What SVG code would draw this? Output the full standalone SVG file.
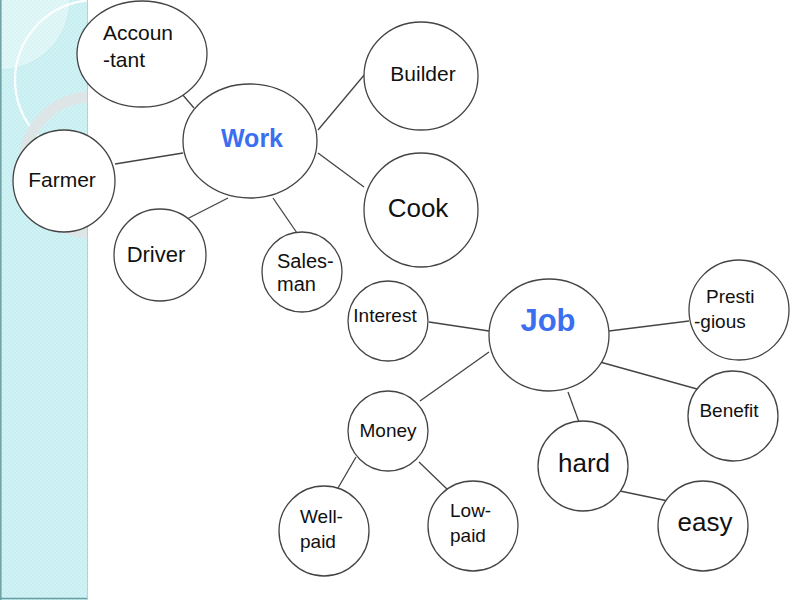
<svg xmlns="http://www.w3.org/2000/svg" width="800" height="600" viewBox="0 0 800 600">
<defs>
<pattern id="chk" width="4" height="4" patternUnits="userSpaceOnUse">
<rect width="4" height="4" fill="#c6eef1"/>
<rect width="2" height="2" fill="#d2f3f5"/>
<rect x="2" y="2" width="2" height="2" fill="#d2f3f5"/>
</pattern>
<clipPath id="panel"><rect x="0" y="0" width="88" height="600"/></clipPath>
</defs>
<style>
.n{fill:#fff;stroke:#444;stroke-width:1.3}
.c line{stroke:#444;stroke-width:1.3}
text{font-family:"Liberation Sans",Arial,sans-serif;fill:#111}
.h{fill:#3b6ff0;font-weight:bold}
</style>
<rect width="800" height="600" fill="#fff"/>
<g id="panel-bg" clip-path="url(#panel)">
<rect x="0" y="0" width="88" height="600" fill="url(#chk)"/>
<circle cx="0" cy="0" r="70" fill="#ffffff" opacity="0.35" stroke="#b9e0e3" stroke-width="1"/>
<circle cx="95" cy="80" r="80" fill="none" stroke="#ffffff" stroke-width="2.2" opacity="0.9"/>
<circle cx="92" cy="165" r="68" fill="none" stroke="#dde5e7" stroke-width="11"/>
<line x1="0.8" y1="0" x2="0.8" y2="600" stroke="#6a9fa2" stroke-width="1.5"/>
<line x1="0" y1="598.5" x2="88" y2="598.5" stroke="#6a9fa2" stroke-width="1.5"/>
<line x1="87.5" y1="0" x2="87.5" y2="600" stroke="#a9d6d9" stroke-width="1"/>
</g>
<g id="connectors" class="c">
<line x1="182" y1="94" x2="194" y2="108"/>
<line x1="115" y1="164" x2="183" y2="153"/>
<line x1="183" y1="221" x2="228" y2="198"/>
<line x1="273" y1="198" x2="297" y2="233"/>
<line x1="318" y1="130" x2="365" y2="74"/>
<line x1="318" y1="153" x2="364" y2="187"/>
<line x1="429" y1="322" x2="489" y2="331"/>
<line x1="420" y1="401" x2="489" y2="352"/>
<line x1="609" y1="331" x2="689" y2="321"/>
<line x1="600" y1="362" x2="697" y2="389"/>
<line x1="568" y1="392" x2="579" y2="422"/>
<line x1="356" y1="457" x2="338" y2="488"/>
<line x1="419" y1="462" x2="448" y2="490"/>
<line x1="620" y1="491" x2="668" y2="501"/>
</g>
<g id="accountant"><ellipse class="n" cx="142" cy="54" rx="65" ry="53"/><text x="103" y="40" font-size="21">Accoun</text><text x="103" y="67" font-size="21">-tant</text></g>
<g id="work"><ellipse class="n" cx="250" cy="141" rx="67" ry="57"/><text class="h" x="252" y="147" font-size="25" text-anchor="middle">Work</text></g>
<g id="builder"><ellipse class="n" cx="421" cy="76" rx="57" ry="54"/><text x="423" y="81" font-size="21" text-anchor="middle">Builder</text></g>
<g id="farmer"><circle class="n" cx="64" cy="181" r="51"/><text x="62" y="187" font-size="21" text-anchor="middle">Farmer</text></g>
<g id="cook"><circle class="n" cx="421" cy="210" r="57"/><text x="418" y="217" font-size="26" text-anchor="middle">Cook</text></g>
<g id="driver"><circle class="n" cx="160" cy="255" r="46"/><text x="156" y="262" font-size="22" text-anchor="middle">Driver</text></g>
<g id="salesman"><circle class="n" cx="302" cy="272" r="40"/><text x="277" y="268" font-size="20">Sales-</text><text x="277" y="291" font-size="20">man</text></g>
<g id="interest"><circle class="n" cx="388" cy="321" r="40"/><text x="385" y="322" font-size="19" text-anchor="middle">Interest</text></g>
<g id="job"><ellipse class="n" cx="549" cy="335" rx="60" ry="56"/><text class="h" x="548" y="331" font-size="31" text-anchor="middle">Job</text></g>
<g id="prestigious"><circle class="n" cx="739" cy="310" r="50"/><text x="706" y="303" font-size="19">Presti</text><text x="694" y="328" font-size="19">-gious</text></g>
<g id="benefit"><circle class="n" cx="733" cy="416" r="45"/><text x="729" y="417" font-size="19" text-anchor="middle">Benefit</text></g>
<g id="money"><circle class="n" cx="388" cy="431" r="40"/><text x="388" y="437" font-size="19" text-anchor="middle">Money</text></g>
<g id="hard"><circle class="n" cx="583" cy="466" r="45"/><text x="584" y="472" font-size="26" text-anchor="middle">hard</text></g>
<g id="easy"><circle class="n" cx="703" cy="526" r="45"/><text x="705" y="531" font-size="26" text-anchor="middle">easy</text></g>
<g id="wellpaid"><circle class="n" cx="324" cy="531" r="45"/><text x="300" y="523" font-size="19">Well-</text><text x="300" y="548" font-size="19">paid</text></g>
<g id="lowpaid"><circle class="n" cx="473" cy="526" r="45"/><text x="450" y="517" font-size="19">Low-</text><text x="450" y="542" font-size="19">paid</text></g>
</svg>
